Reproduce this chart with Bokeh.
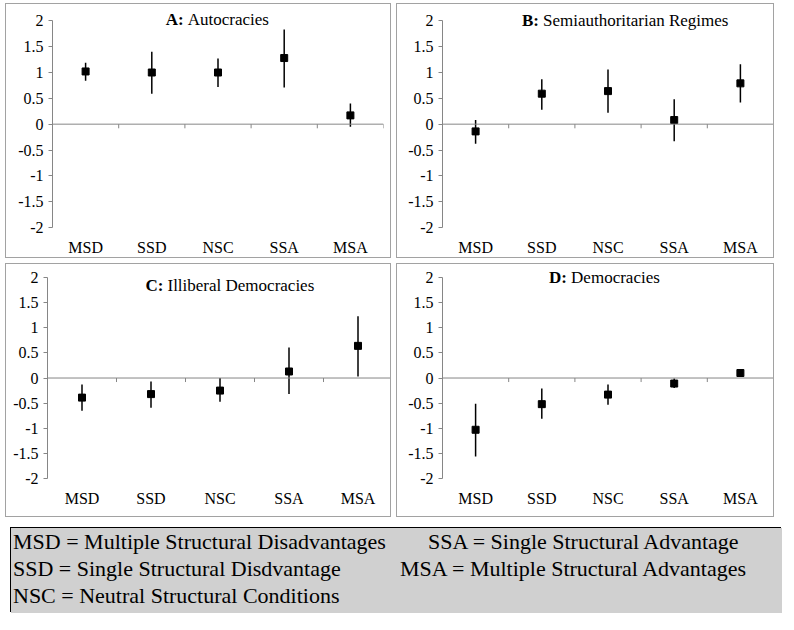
from bokeh.plotting import figure
from bokeh.layouts import row, column
from bokeh.models import (Range1d, FactorRange, Label, Span, Div, FixedTicker,
                          NumeralTickFormatter, ColumnDataSource)
from bokeh.embed import file_html
from bokeh.resources import INLINE

categories = ["MSD", "SSD", "NSC", "SSA", "MSA"]
y_ticks = [-2, -1.5, -1, -0.5, 0, 0.5, 1, 1.5, 2]

a_est = [1.02, 1.00, 1.00, 1.28, 0.17]
a_low = [0.84, 0.59, 0.72, 0.71, -0.05]
a_high = [1.19, 1.40, 1.27, 1.83, 0.40]

b_est = [-0.14, 0.59, 0.64, 0.08, 0.79]
b_low = [-0.38, 0.28, 0.22, -0.33, 0.42]
b_high = [0.08, 0.87, 1.06, 0.48, 1.16]

c_est = [-0.39, -0.32, -0.25, 0.13, 0.64]
c_low = [-0.65, -0.59, -0.47, -0.32, 0.03]
c_high = [-0.13, -0.07, 0.00, 0.61, 1.23]

d_est = [-1.03, -0.52, -0.33, -0.11, 0.10]
d_low = [-1.56, -0.81, -0.53, -0.20, 0.05]
d_high = [-0.51, -0.21, -0.13, -0.01, 0.14]

title_prefixes = ["A:", "B:", "C:", "D:"]
title_names = ["Autocracies", "Semiauthoritarian Regimes", "Illiberal Democracies", "Democracies"]

legend_col1 = ["MSD = Multiple Structural Disadvantages",
               "SSD = Single Structural Disdvantage",
               "NSC = Neutral Structural Conditions"]
legend_col2 = ["SSA = Single Structural Advantage",
               "MSA = Multiple Structural Advantages"]

FONT = "Liberation Serif"
AXIS_C = "#868686"
TITLE_SIZE = 17


def panel(est, low, high, prefix, name, tx, tdy, w, h, top, bottom, left, right):
    p = figure(width=w, height=h,
               x_range=FactorRange(*categories, range_padding=0),
               y_range=Range1d(-2, 2.2),
               output_backend="svg", toolbar_location=None,
               min_border_left=left, min_border_right=right,
               min_border_top=top, min_border_bottom=bottom,
               styles={"border": "1px solid #a2a2a2"})
    p.outline_line_color = None
    p.xgrid.grid_line_color = None
    p.ygrid.grid_line_color = None

    p.xaxis.axis_line_color = None
    p.xaxis.major_tick_line_color = None
    p.xaxis.minor_tick_line_color = None
    p.xaxis.major_tick_in = 0
    p.xaxis.major_tick_out = 0
    p.xaxis.minor_tick_in = 0
    p.xaxis.minor_tick_out = 0
    p.xaxis.major_label_standoff = 11
    p.xaxis.major_label_text_font = FONT
    p.xaxis.major_label_text_font_size = "16px"
    p.xaxis.major_label_text_color = "black"

    p.yaxis.ticker = FixedTicker(ticks=y_ticks)
    p.yaxis.bounds = (-2, 2)
    p.yaxis.formatter = NumeralTickFormatter(format="0.[0]")
    p.yaxis.axis_line_color = AXIS_C
    p.yaxis.major_tick_line_color = AXIS_C
    p.yaxis.major_tick_in = 0
    p.yaxis.major_tick_out = 4
    p.yaxis.minor_tick_line_color = None
    p.yaxis.major_label_standoff = 5
    p.yaxis.major_label_text_font = FONT
    p.yaxis.major_label_text_font_size = "16px"
    p.yaxis.major_label_text_color = "black"

    p.add_layout(Span(location=0, dimension="width", line_color=AXIS_C, line_width=1))
    bounds = [i + 1 for i in range(len(categories))]
    p.segment(x0=bounds, y0=[0] * len(bounds), x1=bounds, y1=[-0.08] * len(bounds),
              line_color=AXIS_C, line_width=1)

    src = ColumnDataSource(dict(cat=categories, est=est, low=low, high=high))
    p.segment(x0="cat", y0="low", x1="cat", y1="high", source=src,
              line_color="black", line_width=1.5)
    p.scatter(x="cat", y="est", source=src, marker="square", size=7,
              fill_color="black", line_color="black")

    pw = 22 if prefix != "B:" else 21
    p.add_layout(Label(x=tx, y=2, y_offset=tdy, text=prefix, text_font=FONT,
                       text_font_style="bold", text_font_size=f"{TITLE_SIZE}px",
                       text_baseline="middle", text_align="left", text_color="black"))
    p.add_layout(Label(x=tx, y=2, x_offset=pw, y_offset=tdy, text=name,
                       text_font=FONT, text_font_size=f"{TITLE_SIZE}px",
                       text_baseline="middle", text_align="left", text_color="black"))
    return p


pA = panel(a_est, a_low, a_high, title_prefixes[0], title_names[0], 1.71, 1,
           386, 255, 6, 32, 46, 9)
pB = panel(b_est, b_low, b_high, title_prefixes[1], title_names[1], 1.20, 0,
           378, 255, 6, 32, 45, 2)
pC = panel(c_est, c_low, c_high, title_prefixes[2], title_names[2], 1.42, -8,
           386, 254, 3, 40, 41, 0)
pD = panel(d_est, d_low, d_high, title_prefixes[3], title_names[3], 1.61, 0,
           378, 254, 3, 40, 45, 2)

line_h = 27
items = []
for i, t in enumerate(legend_col1):
    items.append(f'<div style="position:absolute;left:2px;top:{i*line_h}px;white-space:nowrap;">{t}</div>')
col2_left = [417, 389]
for i, t in enumerate(legend_col2):
    items.append(f'<div style="position:absolute;left:{col2_left[i]}px;top:{i*line_h}px;white-space:nowrap;">{t}</div>')
html = ('<div style="position:relative;width:771px;height:85px;background:#d0d0d0;'
        f'font-family:\'{FONT}\';font-size:22px;line-height:{line_h}px;color:#000;">'
        + "".join(items) + '</div>')
legend = Div(text=html, width=771, height=85,
             styles={"border": "1px solid #000", "background-color": "#d0d0d0"})

layout = column(row(pA, pB, spacing=5), row(pC, pD, spacing=5), legend,
                spacing=5, margin=(3, 0, 0, 5))

open("out.html", "w").write(file_html(layout, INLINE))
